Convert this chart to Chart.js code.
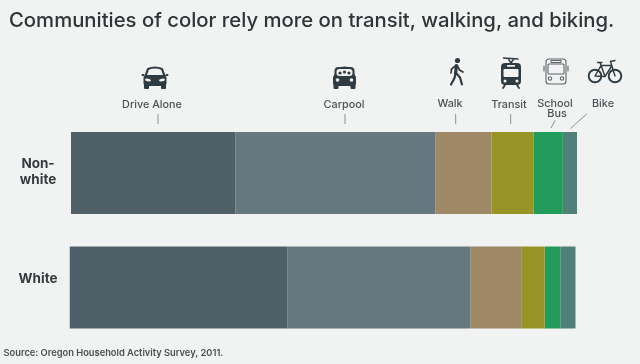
<!DOCTYPE html>
<html><head><meta charset="utf-8">
<style>html,body{margin:0;padding:0;background:#f1f3f3;width:640px;height:364px;overflow:hidden}
#wrap{position:relative;width:640px;height:364px}canvas{display:block;filter:blur(0.35px)}</style>
<script src="https://cdn.jsdelivr.net/npm/chart.js@4/dist/chart.umd.min.js"></script>
</head><body><div id="wrap"><canvas id="c" width="640" height="364"></canvas></div>
<script>
const titleText = 'Communities of color rely more on transit, walking, and biking.';
const sourceText = 'Source: Oregon Household Activity Survey, 2011.';
const categories = [['Non-','white'],['White','']];
const barOffset = [0.3, 0];
const driveAlone = [32.5, 43.1];
const carpool = [39.5, 36.1];
const walk = [11.1, 10.2];
const transit = [8.3, 4.5];
const schoolBus = [5.8, 3.1];
const bike = [2.8, 3.0];
const modeNames = ['Drive Alone','Carpool','Walk','Transit','School Bus','Bike'];
const modeColors = ['#4e5f67','#66787f','#9e8866','#999426','#229c5a','#4f8079'];
const series = [driveAlone,carpool,walk,transit,schoolBus,bike];

const ink='#2f3b42';
function icon(ctx,cx,cy,fn){ctx.save();ctx.translate(cx,cy);ctx.fillStyle=ink;ctx.strokeStyle=ink;ctx.lineJoin='round';ctx.lineCap='round';fn(ctx);ctx.restore();}
function rr(ctx,x,y,w,h,r){ctx.beginPath();ctx.roundRect(x,y,w,h,r);}
function car(ctx,pool){
  rr(ctx,-11.5,-2,23,11,3);ctx.fill();
  rr(ctx,-11,7,5,5,1);ctx.fill();rr(ctx,6,7,5,5,1);ctx.fill();
  ctx.lineWidth=2.2;ctx.beginPath();ctx.moveTo(-9.5,-1);ctx.lineTo(-7,-8);ctx.quadraticCurveTo(0,-11,7,-8);ctx.lineTo(9.5,-1);ctx.stroke();
  if(!pool){rr(ctx,-13.5,-3,3,2,1);ctx.fill();rr(ctx,10.5,-3,3,2,1);ctx.fill();}
  ctx.fillStyle='#f1f3f3';
  if(pool){
    ctx.fillStyle=ink;rr(ctx,-10,-10,20,11,4);ctx.fill();
    ctx.fillStyle='#f1f3f3';rr(ctx,-8,-8,16,7,3);ctx.fill();
    ctx.fillStyle=ink;[-4.5,0,4.5].forEach((x,i)=>{ctx.beginPath();ctx.arc(x,-4+(i==1?-1:0),1.6,0,7);ctx.fill();});
    ctx.fillStyle='#f1f3f3';
    ctx.beginPath();ctx.arc(-7,3,1.8,0,7);ctx.fill();ctx.beginPath();ctx.arc(7,3,1.8,0,7);ctx.fill();
  } else {
    ctx.beginPath();ctx.ellipse(-7,3,3,1.4,0.2,0,7);ctx.fill();ctx.beginPath();ctx.ellipse(7,3,3,1.4,-0.2,0,7);ctx.fill();
  }
}
function walker(ctx){
  ctx.beginPath();ctx.arc(0.5,-11.5,2.6,0,7);ctx.fill();
  ctx.lineWidth=3.2;ctx.beginPath();ctx.moveTo(-0.5,-6.5);ctx.lineTo(-1.5,1.5);ctx.stroke();
  ctx.lineWidth=2.2;ctx.beginPath();ctx.moveTo(-1.5,1.5);ctx.lineTo(-2.5,6);ctx.lineTo(-6,12.5);ctx.stroke();
  ctx.beginPath();ctx.moveTo(-1,1);ctx.lineTo(3,5.5);ctx.lineTo(5,12.5);ctx.stroke();
  ctx.lineWidth=1.7;ctx.beginPath();ctx.moveTo(-1,-6.5);ctx.lineTo(-5.5,-3);ctx.lineTo(-6,1);ctx.stroke();
  ctx.beginPath();ctx.moveTo(0.5,-6);ctx.lineTo(2.5,-2);ctx.lineTo(6,0);ctx.stroke();
}
function tram(ctx){
  ctx.lineWidth=1.4;ctx.beginPath();ctx.moveTo(-7.5,-15);ctx.lineTo(7,-14);ctx.moveTo(-3,-14.5);ctx.lineTo(0,-10);ctx.lineTo(3,-14.5);ctx.stroke();
  rr(ctx,-10,-10,20,22,4);ctx.fill();
  ctx.fillStyle='#f1f3f3';rr(ctx,-7.5,-4,15,8,1);ctx.fill();rr(ctx,-4,-8,8,1.8,.5);ctx.fill();
  ctx.beginPath();ctx.arc(-6,8,1.5,0,7);ctx.fill();ctx.beginPath();ctx.arc(6,8,1.5,0,7);ctx.fill();
  ctx.fillStyle=ink;ctx.lineWidth=1.8;ctx.beginPath();ctx.moveTo(-6,12);ctx.lineTo(-8,15);ctx.moveTo(6,12);ctx.lineTo(8,15);ctx.stroke();
}
function bus(ctx){
  ctx.strokeStyle='#5c666b';ctx.lineWidth=1.1;
  rr(ctx,-10,-13,20,25,3);ctx.stroke();
  rr(ctx,-8,-8,16,10,1);ctx.stroke();
  rr(ctx,-5,-11.5,10,2,.5);ctx.stroke();
  ctx.beginPath();ctx.moveTo(-12,-6);ctx.lineTo(-12,-1);ctx.moveTo(12,-6);ctx.lineTo(12,-1);ctx.stroke();
  ctx.beginPath();ctx.arc(-6,6.5,1.7,0,7);ctx.stroke();ctx.beginPath();ctx.arc(6,6.5,1.7,0,7);ctx.stroke();
}
function bicycle(ctx){
  ctx.lineWidth=1.9;
  ctx.beginPath();ctx.arc(-10,4.5,6.3,0,7);ctx.stroke();ctx.beginPath();ctx.arc(10,4.5,6.3,0,7);ctx.stroke();
  ctx.lineWidth=1.4;ctx.beginPath();ctx.moveTo(-10,4.5);ctx.lineTo(-4,-6);ctx.lineTo(7,-6);ctx.lineTo(0,5);ctx.closePath();
  ctx.moveTo(-5,-9);ctx.lineTo(0,5);ctx.moveTo(10,4.5);ctx.lineTo(5.5,-10);ctx.lineTo(10,-11);ctx.moveTo(-7.5,-9);ctx.lineTo(-3,-9);ctx.stroke();
}
const iconSpecs=[[155,77,c=>car(c,false)],[344.5,77,c=>car(c,true)],[457,72,walker],[511,73,tram],[556,72,bus],[605,71.5,bicycle]];
const labelSpecs=[['Drive Alone',152,104.5],['Carpool',344,104.5],['Walk',450,103.5],['Transit',509,104.5],['School',555,103.5],['Bus',557,114],['Bike',603,104]];
const leaderSpecs=[[158,114,158,124],[345,114,345,124],[455.7,114,455.7,124],[510.7,114,510.7,124],[555,120.5,551,128],[586.7,114,570.5,128.5]];

const annotate={id:'annotate',afterDraw(chart){
  const ctx=chart.ctx;ctx.save();
  iconSpecs.forEach(s=>icon(ctx,s[0],s[1],s[2]));
  ctx.fillStyle='#4a5256';ctx.font='500 10.8px Inter';ctx.textAlign='center';ctx.textBaseline='middle';
  labelSpecs.forEach(s=>ctx.fillText(s[0],s[1],s[2]));
  ctx.strokeStyle='#8a8f91';ctx.lineWidth=1;
  leaderSpecs.forEach(s=>{ctx.beginPath();ctx.moveTo(s[0],s[1]);ctx.lineTo(s[2],s[3]);ctx.stroke();});
  ctx.fillStyle='#4a4f52';ctx.font='600 9.3px Inter';ctx.textAlign='left';ctx.fillText(sourceText,3.5,353.5);
  ctx.restore();
}};

new Chart(document.getElementById('c'),{
  type:'bar',
  data:{labels:categories,datasets:[
    {label:'offset',data:barOffset,backgroundColor:'rgba(0,0,0,0)'},
    ...modeNames.map((n,i)=>({label:n,data:series[i],backgroundColor:modeColors[i]}))
  ]},
  options:{
    indexAxis:'y',responsive:false,animation:false,
    categoryPercentage:1,barPercentage:0.716,
    layout:{padding:{left:9,right:0,top:0,bottom:19.25}},
    scales:{
      x:{stacked:true,display:false,min:0,max:112.75},
      y:{stacked:true,grid:{display:false,drawTicks:false},border:{display:false},
         afterFit(s){s.width=60.5;s.paddingTop=0;s.paddingBottom=0;s.paddingLeft=0;s.paddingRight=0;},
         ticks:{padding:12,crossAlign:'center',labelOffset:-1,color:'#353a3c',autoSkip:false,
                font:{family:'Inter',size:13.5,weight:'700',lineHeight:16/13.5}}}
    },
    plugins:{legend:{display:false},tooltip:{enabled:false},
      title:{display:true,text:titleText,align:'start',color:'#2f3436',
             font:{family:'Inter',size:20.3,weight:'500',lineHeight:1.2},
             padding:{top:9,bottom:82.39}}}
  },
  plugins:[annotate]
});
</script></body></html>
